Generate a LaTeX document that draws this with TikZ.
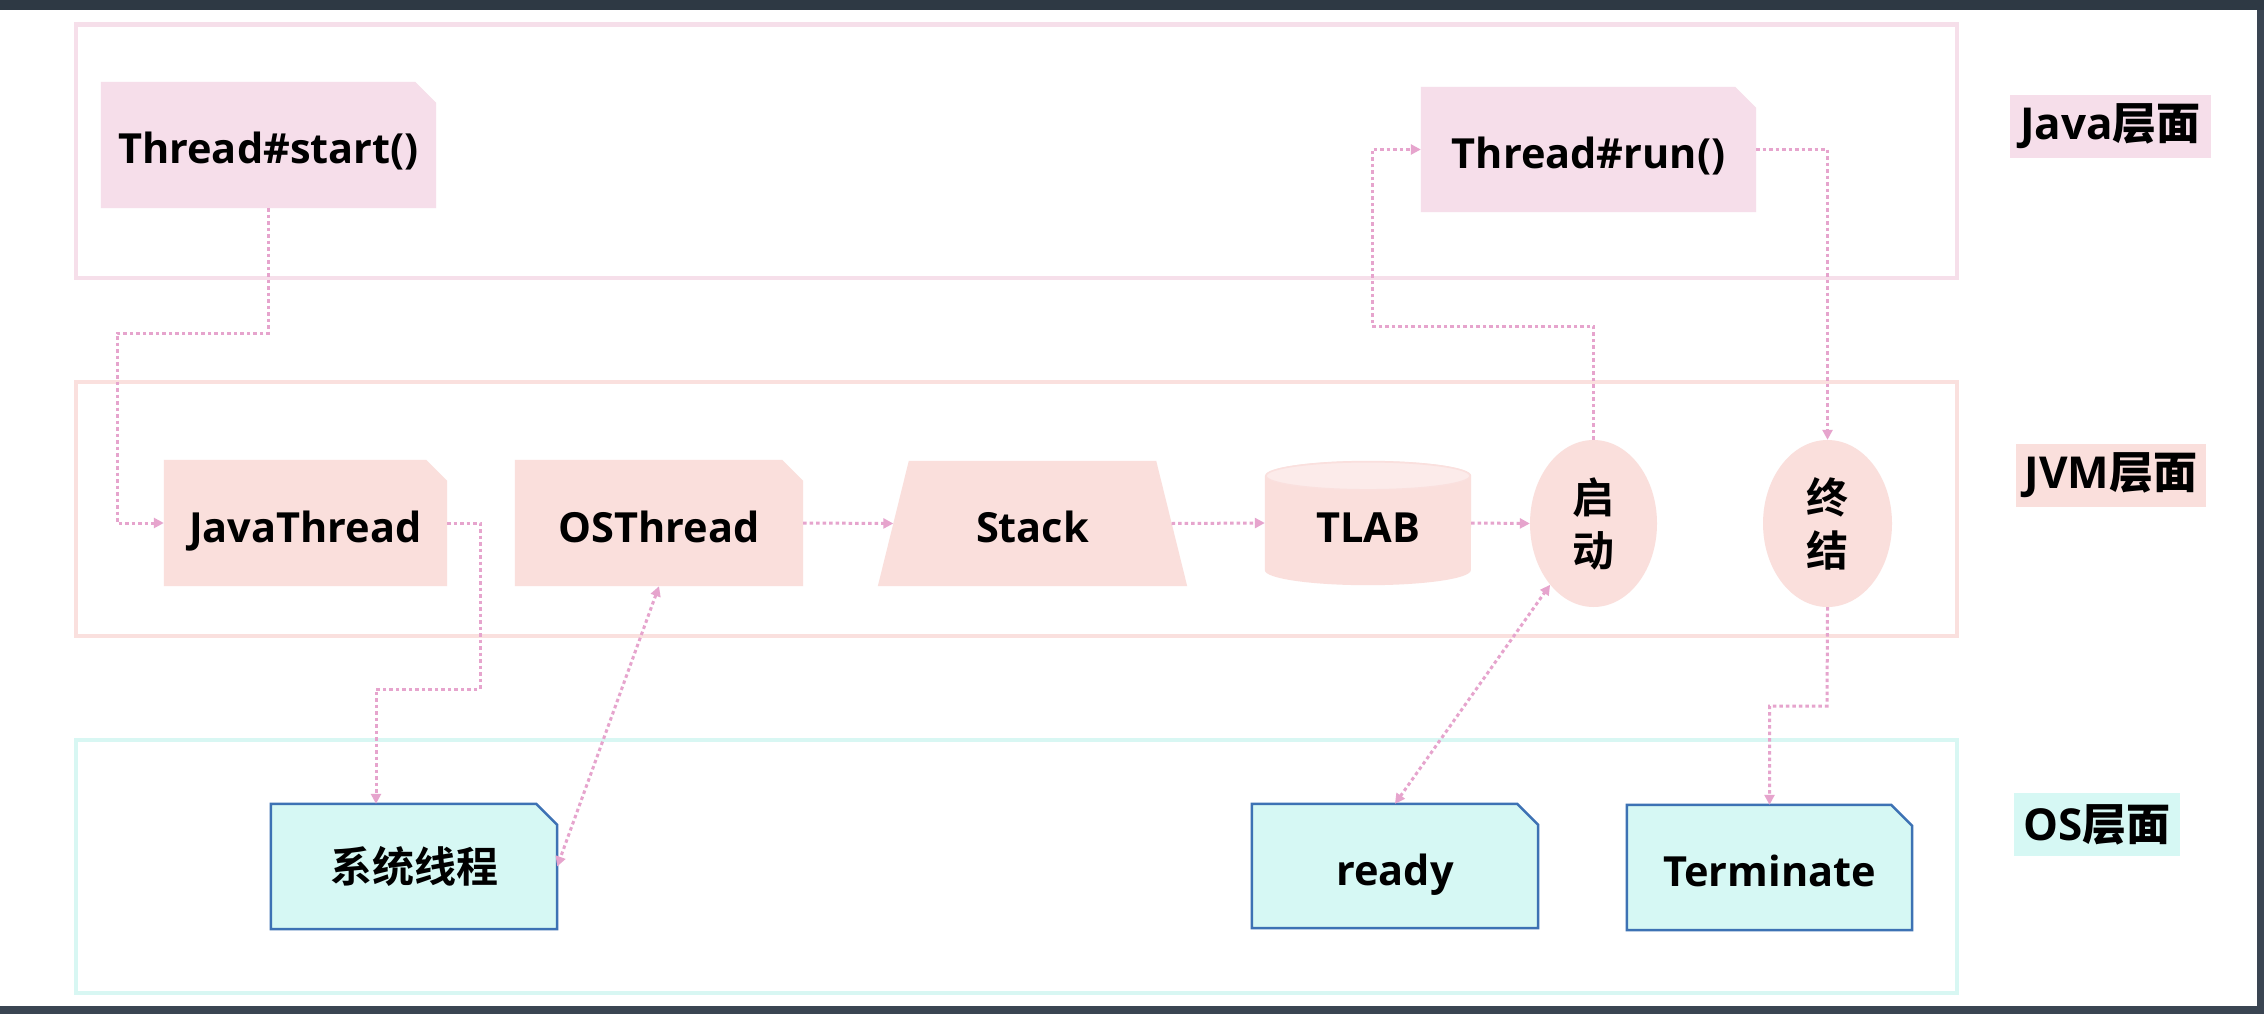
\documentclass[tikz,border=0pt]{standalone}
\usepackage{fontspec}
\setmainfont{Open Sans}
\newfontfamily\cjk{Noto Sans CJK SC Bold}
\usetikzlibrary{arrows.meta,shapes.geometric}
\definecolor{framecol}{HTML}{3A4552}
\definecolor{framecoltop}{HTML}{2E3944}
\definecolor{javaline}{HTML}{F6DFEA}
\definecolor{javafill}{HTML}{F6DEEA}
\definecolor{jvmline}{HTML}{FAE0DE}
\definecolor{jvmfill}{HTML}{FADFDC}
\definecolor{jvmtop}{HTML}{FCEBEA}
\definecolor{osline}{HTML}{D8F7F3}
\definecolor{osfill}{HTML}{D6F8F4}
\definecolor{osborder}{HTML}{3D72B4}
\definecolor{conncol}{HTML}{E6A4CD}
\pgfdeclarelayer{back}
\pgfdeclarelayer{shapes}
\pgfsetlayers{back,shapes,main}
\newcommand\foldpath[1]{(#1.north west) -- ([xshift=-21pt]#1.north east) -- ([yshift=-21pt]#1.north east) -- (#1.south east) -- (#1.south west) -- cycle}
\begin{document}
\begin{tikzpicture}[x=1pt,y=-1pt,
  latin/.style={font=\fontsize{41.5}{50}\selectfont\bfseries,text height=38pt,text depth=0pt},
  han/.style={font=\cjk\fontsize{42}{53}\selectfont},
  area/.style n args={2}{rectangle,inner sep=0pt,minimum width=#1,minimum height=#2},
  layerbox/.style={rectangle,inner sep=0pt,line width=4.5pt},
  oval/.style={ellipse,inner sep=0pt,fill=jvmfill,align=center,han},
  conn/.style={draw=conncol,line width=3pt,dash pattern=on 3.5pt off 3pt,-{Triangle[length=10pt,width=10pt]}},
  conn2/.style={conn,{Triangle[length=10pt,width=10pt]}-{Triangle[length=10pt,width=10pt]}}]
\useasboundingbox (0,0) rectangle (2264,1014);
\begin{pgfonlayer}{back}
\fill[framecol] (0,0) rectangle (2264,1014);
\fill[framecoltop] (0,0) rectangle (2264,10);
\fill[white] (0,10) rectangle (2257,1006);
\end{pgfonlayer}
% layer boxes
\node[layerbox,draw=javaline,minimum width=1881pt,minimum height=253.5pt] (javalayer) at (1016.5,151.25) {};
\node[layerbox,draw=jvmline,minimum width=1881pt,minimum height=254pt] (jvmlayer) at (1016.5,509) {};
\node[layerbox,draw=osline,minimum width=1881pt,minimum height=253pt] (oslayer) at (1016.5,866.5) {};
% labels
\node[area={201pt}{63pt},fill=javafill] (lj) at (2110.5,126.5) {\bfseries\fontsize{44}{53}\selectfont Java{\cjk 层面}};
\node[area={190pt}{63pt},fill=jvmfill] (lv) at (2111,475.5) {\bfseries\fontsize{44}{53}\selectfont JVM{\cjk 层面}};
\node[area={166pt}{63pt},fill=osfill] (lo) at (2097,824.5) {\bfseries\fontsize{44}{53}\selectfont OS{\cjk 层面}};
% nodes
\node[area={335pt}{126pt},latin] (start) at (268.5,145) {Thread\#start()};
\node[area={335pt}{125pt},latin] (run) at (1588.5,149.5) {Thread\#run()};
\node[area={283pt}{126pt},latin] (jt) at (305.5,523) {JavaThread};
\node[area={288pt}{126pt},latin] (ost) at (659,523) {OSThread};
\node[area={309pt}{125pt},latin] (stack) at (1032.5,523.5) {Stack};
\node[area={206pt}{124pt},latin] (tlab) at (1368,523) {TLAB};
\node[oval,minimum width=127pt,minimum height=167pt] (qd) at (1593.5,523.5) {启\\动};
\node[oval,minimum width=129pt,minimum height=167pt] (zj) at (1827.5,523.5) {终\\结};
\node[area={286pt}{125pt},han] (sys) at (414,866.5) {\raisebox{-3pt}{系统线程}};
\node[area={286pt}{124pt},latin] (ready) at (1395,866) {ready};
\node[area={285pt}{125pt},latin] (term) at (1769.5,867.5) {Terminate};
% shapes behind the nodes
\begin{pgfonlayer}{shapes}
\fill[javafill] \foldpath{start};
\fill[javafill] \foldpath{run};
\fill[jvmfill] \foldpath{jt};
\fill[jvmfill] \foldpath{ost};
\fill[jvmfill] ([xshift=31pt]stack.north west) -- ([xshift=-31pt]stack.north east) -- (stack.south east) -- (stack.south west) -- cycle;
\fill[jvmfill] ([yshift=-15pt]tlab.north west) -- ([yshift=15pt]tlab.south west) arc[start angle=180,end angle=360,x radius=103pt,y radius=15pt] -- ([yshift=-15pt]tlab.north east) arc[start angle=0,end angle=180,x radius=103pt,y radius=15pt] -- cycle;
\filldraw[fill=jvmtop,draw=jvmline,line width=1.5pt] ([yshift=-15pt]tlab.north) ellipse[x radius=102pt,y radius=14pt];
\filldraw[fill=osfill,draw=osborder,line width=2.5pt] \foldpath{sys};
\filldraw[fill=osfill,draw=osborder,line width=2.5pt] \foldpath{ready};
\filldraw[fill=osfill,draw=osborder,line width=2.5pt] \foldpath{term};
\end{pgfonlayer}
% bend points
\coordinate (b1) at (117,333);
\coordinate (b2) at (1372,326);
\coordinate (b3) at (480,689);
\coordinate (b4) at (1827,706);
% connectors
\draw[conn] (start.south) |- (b1) |- (jt.west);
\draw[conn] (ost.east) -- ([xshift=15.5pt]stack.west);
\draw[conn] ([xshift=-15.5pt]stack.east) -- (tlab.west);
\draw[conn] (tlab.east) -- (qd.west);
\draw[conn] (qd.north) |- (b2) |- (run.west);
\draw[conn] (run.east) -| (zj.north);
\draw[conn] (jt.east) -| (b3) -| ([xshift=-38pt]sys.north);
\draw[conn2] (ost.south) -- (sys.east);
\draw[conn2] (ready.north) -- (qd);
\draw[conn] (zj.south) -- (b4) -| (term.north);
\end{tikzpicture}
\end{document}
